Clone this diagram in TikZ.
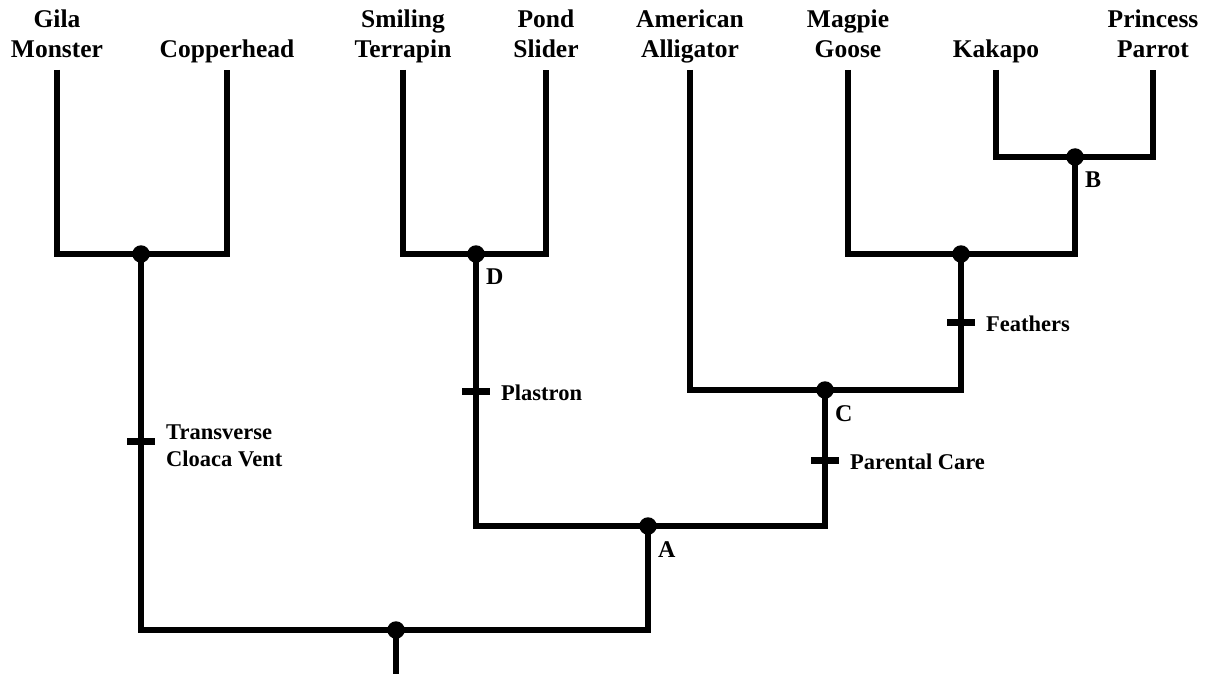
\documentclass[tikz,border=0pt]{standalone}
\usepackage{fontspec}
\setmainfont{Liberation Serif}
\usetikzlibrary{positioning,calc}
\tikzset{
  branch/.style={line width=6.5pt,draw=black,line join=miter},
  taxon/.style={font=\fontsize{25.5}{30}\selectfont\bfseries,align=center,
    anchor=south,inner sep=0pt,text depth=0pt},
  trait/.style={font=\fontsize{22.5}{27}\selectfont\bfseries,align=left,
    anchor=west,inner sep=0pt},
  clade/.style={font=\fontsize{24}{28}\selectfont\bfseries,inner sep=0pt,
    anchor=north west},
  joint/.style={circle,fill=black,inner sep=0pt,minimum size=17.5pt},
  traitmark/.style={line width=7pt,draw=black},
}
\begin{document}
\begin{tikzpicture}[x=1pt,y=-1pt]
  \useasboundingbox (0,0) rectangle (1208,674);
  % tips
  \coordinate (gila) at (57,70);
  \coordinate (copper) at (227,70);
  \coordinate (terrapin) at (403,70);
  \coordinate (slider) at (546,70);
  \coordinate (alligator) at (690,70);
  \coordinate (goose) at (848,70);
  \coordinate (kakapo) at (996,70);
  \coordinate (parrot) at (1153,70);
  % internal nodes
  \coordinate (sq) at (141,254);
  \coordinate (D) at (476,254);
  \coordinate (B) at (1075,157);
  \coordinate (av) at (961,254);
  \coordinate (C) at (825,390);
  \coordinate (A) at (648,526);
  \coordinate (root) at (396,630);
  \coordinate (base) at (396,674);
  % branches
  \draw[branch] (gila) |- (sq) -| (copper);
  \draw[branch] (terrapin) |- (D) -| (slider);
  \draw[branch] (kakapo) |- (B) -| (parrot);
  \draw[branch] (goose) |- (av) -| (B);
  \draw[branch] (alligator) |- (C) -| (av);
  \draw[branch] (D) |- (A) -| (C);
  \draw[branch] (sq) |- (root) -| (A);
  \draw[branch] (root) -- (base);
  \foreach \n in {sq,D,B,av,C,A,root}
    \node[joint] (j-\n) at (\n) {};
  % clade letters
  \foreach \n in {A,B,C,D}
    \node[clade] (lab-\n) at ([xshift=10pt,yshift=-15pt]\n) {\n};
  % taxa
  \node[taxon] (n-gila) at ([yshift=12pt]gila) {Gila\\Monster};
  \node[taxon] (n-copper) at ([yshift=12pt]copper) {Copperhead};
  \node[taxon] (n-terrapin) at ([yshift=12pt]terrapin) {Smiling\\Terrapin};
  \node[taxon] (n-slider) at ([yshift=12pt]slider) {Pond\\Slider};
  \node[taxon] (n-alligator) at ([yshift=12pt]alligator) {American\\Alligator};
  \node[taxon] (n-goose) at ([yshift=12pt]goose) {Magpie\\Goose};
  \node[taxon] (n-kakapo) at ([yshift=12pt]kakapo) {Kakapo};
  \node[taxon] (n-parrot) at ([yshift=12pt]parrot) {Princess\\Parrot};
  % synapomorphies
  \coordinate (t-vent) at (141,441);
  \coordinate (t-plas) at (476,391);
  \coordinate (t-care) at (825,460);
  \coordinate (t-feat) at (961,322);
  \foreach \t in {t-vent,t-plas,t-care,t-feat}
    \draw[traitmark] ([xshift=-14pt]\t) -- ([xshift=14pt]\t);
  \node[trait] (l-vent) at ([xshift=25pt,yshift=-5pt]t-vent) {Transverse\\Cloaca Vent};
  \node[trait] (l-plas) at ([xshift=25pt,yshift=-2pt]t-plas) {Plastron};
  \node[trait] (l-care) at ([xshift=25pt,yshift=-2pt]t-care) {Parental Care};
  \node[trait] (l-feat) at ([xshift=25pt,yshift=-2pt]t-feat) {Feathers};
\end{tikzpicture}
\end{document}
